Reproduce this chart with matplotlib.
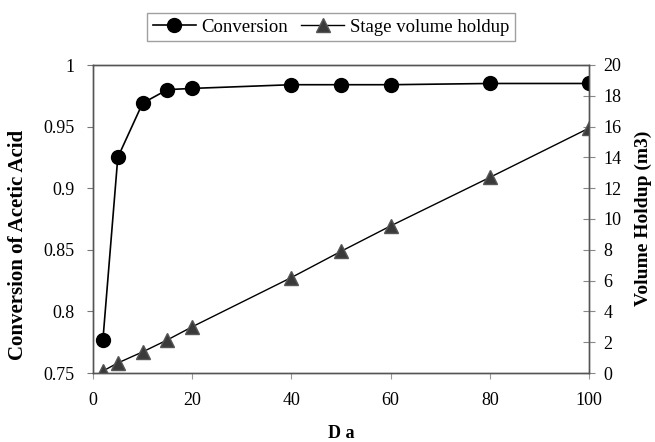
import matplotlib.pyplot as plt
from matplotlib.lines import Line2D

plt.rcParams['font.family'] = ['Liberation Serif', 'DejaVu Serif']

da = [2, 5, 10, 15, 20, 40, 50, 60, 80, 100]
conversion = [0.777, 0.925, 0.969, 0.980, 0.981, 0.984, 0.984, 0.984, 0.985, 0.985]
holdup = [0.13, 0.65, 1.37, 2.15, 3.0, 6.2, 7.9, 9.55, 12.7, 15.9]

fig = plt.figure(figsize=(6.55, 4.42), dpi=100)
ax = fig.add_axes([93 / 655, 1 - 373 / 442, 496 / 655, 308 / 442])
ax2 = ax.twinx()

ax.plot(da, conversion, color='black', lw=1.2, marker='o', ms=10,
        markerfacecolor='black', markeredgecolor='black', zorder=3)
ax2.plot(da, holdup, color='black', lw=1.0, marker='^', ms=10,
         markerfacecolor='#3a3a3a', markeredgecolor='#555555')

ax.set_xlim(0, 100)
ax.set_ylim(0.75, 1.0)
ax2.set_ylim(0, 20)
ax.set_xticks([0, 20, 40, 60, 80, 100])
ax.set_yticks([0.75, 0.8, 0.85, 0.9, 0.95, 1.0])
ax.set_yticklabels(['0.75', '0.8', '0.85', '0.9', '0.95', '1'])
ax2.set_yticks(range(0, 21, 2))

for a in (ax, ax2):
    for s in a.spines.values():
        s.set_color('#555555')
        s.set_linewidth(1.0)
ax.tick_params(axis='y', direction='out', length=4, labelsize=13, color='#777777', pad=9)
ax.tick_params(axis='x', direction='out', length=4, labelsize=13, color='#999999', pad=10)
ax2.tick_params(axis='y', direction='inout', length=9, labelsize=13, color='#888888', pad=6)

# axis titles placed by hand, as in the spreadsheet layout
fig.text(18 / 655, 1 - 245 / 442, 'Conversion of Acetic Acid', rotation=90,
         ha='center', va='center', fontsize=15, fontweight='bold')
fig.text(643 / 655, 1 - 218 / 442, 'Volume Holdup (m3)', rotation=90,
         ha='center', va='center', fontsize=14, fontweight='bold')
fig.text(341 / 655, 1 - 434 / 442, 'D a', ha='center', va='center',
         fontsize=13, fontweight='bold')

handles = [
    Line2D([], [], color='black', lw=1.2, marker='o', ms=10, markerfacecolor='black'),
    Line2D([], [], color='black', lw=1.0, marker='^', ms=10,
           markerfacecolor='#3a3a3a', markeredgecolor='#555555'),
]
leg = fig.legend(handles, ['Conversion', 'Stage volume holdup'], loc='center',
                 bbox_to_anchor=(331 / 655, 1 - 27 / 442), ncol=2, fontsize=13.5,
                 frameon=True, fancybox=False, handlelength=2.3, handletextpad=0.3,
                 columnspacing=0.7, borderpad=0.3)
leg.get_frame().set_edgecolor('#888888')
leg.get_frame().set_linewidth(1.0)

fig.savefig('out.png', dpi=100)
